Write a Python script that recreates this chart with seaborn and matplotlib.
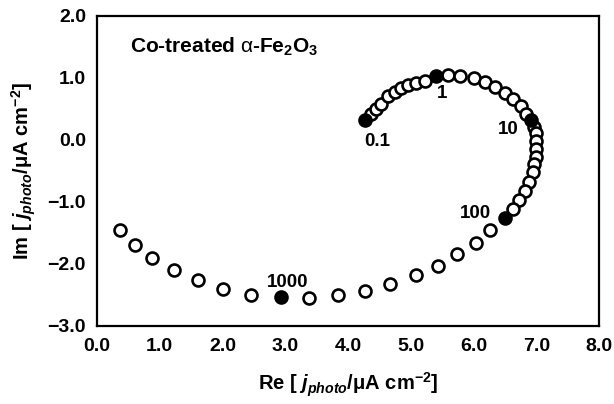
import matplotlib
matplotlib.use("Agg")
import matplotlib.pyplot as plt
import seaborn as sns
import pandas as pd

# ---- data ----
# open points, low -> high frequency
re_open = [4.37, 4.45, 4.53, 4.64, 4.75, 4.85, 4.96, 5.08, 5.22,
           5.59, 5.78, 6.00, 6.18, 6.34, 6.50, 6.63, 6.75, 6.84,
           6.96, 6.99, 7.00, 7.00, 6.99, 6.97, 6.95, 6.88, 6.82, 6.72, 6.63,
           6.27, 6.04, 5.74, 5.43, 5.08, 4.67, 4.27, 3.84, 3.38,
           2.46, 2.00, 1.61, 1.22, 0.88, 0.61, 0.36]
im_open = [0.42, 0.50, 0.58, 0.70, 0.77, 0.84, 0.88, 0.91, 0.95,
           1.04, 1.03, 0.99, 0.93, 0.85, 0.75, 0.65, 0.54, 0.42,
           0.21, 0.10, -0.02, -0.15, -0.28, -0.40, -0.52, -0.69, -0.83, -0.98, -1.11,
           -1.46, -1.66, -1.85, -2.04, -2.19, -2.32, -2.44, -2.51, -2.55,
           -2.51, -2.41, -2.27, -2.10, -1.91, -1.70, -1.46]

# marked (filled) frequency points
freq_labels = ["0.1", "1", "10", "100", "1000"]
re_marked = [4.27, 5.40, 6.92, 6.50, 2.94]
im_marked = [0.31, 1.03, 0.32, -1.26, -2.54]

x_ticks = [0.0, 1.0, 2.0, 3.0, 4.0, 5.0, 6.0, 7.0, 8.0]
y_ticks = [-3.0, -2.0, -1.0, 0.0, 1.0, 2.0]

df_open = pd.DataFrame({"re": re_open, "im": im_open})
df_marked = pd.DataFrame({"re": re_marked, "im": im_marked, "f": freq_labels})

# ---- style ----
sns.set_theme(style="white")
plt.rcParams["font.family"] = ["Liberation Sans", "DejaVu Sans"]
plt.rcParams["text.color"] = "black"
plt.rcParams["axes.labelcolor"] = "black"
plt.rcParams["mathtext.fontset"] = "custom"
plt.rcParams["mathtext.rm"] = "Liberation Sans:bold"
plt.rcParams["mathtext.it"] = "Liberation Sans:italic:bold"
plt.rcParams["mathtext.bf"] = "Liberation Sans:bold"
plt.rcParams["mathtext.sf"] = "Liberation Sans"
plt.rcParams["mathtext.default"] = "regular"

fig = plt.figure(figsize=(6.14, 4.04), dpi=100)
ax = fig.add_axes([97 / 614, 1 - 325.7 / 404, (599 - 97) / 614, (325.7 - 15.7) / 404])

sns.scatterplot(data=df_open, x="re", y="im", ax=ax, marker="o", s=74,
                facecolor="white", edgecolor="black", linewidth=1.9, zorder=3,
                legend=False)
sns.scatterplot(data=df_marked, x="re", y="im", ax=ax, marker="o", s=74,
                color="black", edgecolor="black", linewidth=1.9, zorder=4,
                legend=False)

offsets = {"0.1": (12, -21), "1": (6, -18), "10": (-23, -10),
           "100": (-29, 4), "1000": (6, 15)}
for xv, yv, lab in zip(re_marked, im_marked, freq_labels):
    ax.annotate(lab, (xv, yv), xytext=offsets[lab], textcoords="offset pixels",
                ha="center", va="center", fontsize=13.5, fontweight="bold",
                color="black")

ax.text(0.53, 1.50, r"Co-treated $\mathsf{\alpha}$-Fe$_2$O$_3$", fontsize=15,
        fontweight="bold", ha="left", va="center", color="black")

ax.set_xlim(0, 8)
ax.set_ylim(-3, 2)
ax.set_xticks(x_ticks)
ax.set_yticks(y_ticks)
ax.set_xticklabels([f"{v:.1f}" for v in x_ticks])
ax.set_yticklabels([f"{v:.1f}".replace("-", "\u2212") for v in y_ticks])
ax.tick_params(direction="in", length=9, width=1.5, colors="black",
               labelsize=14)
ax.tick_params(axis="x", pad=9)
ax.tick_params(axis="y", pad=8)
for lab in ax.get_xticklabels() + ax.get_yticklabels():
    lab.set_fontweight("bold")
for sp in ax.spines.values():
    sp.set_visible(True)
    sp.set_color("black")
    sp.set_linewidth(1.6)

ax.set_xlabel(r"Re [ $\mathit{j_{photo}}$/μA cm$^{-2}$]",
              fontsize=14.5, fontweight="bold", labelpad=11, color="black")
ax.set_ylabel(r"Im [ $\mathit{j_{photo}}$/μA cm$^{-2}$]",
              fontsize=14.5, fontweight="bold", labelpad=7, color="black")

fig.savefig("out.png", dpi=100)
